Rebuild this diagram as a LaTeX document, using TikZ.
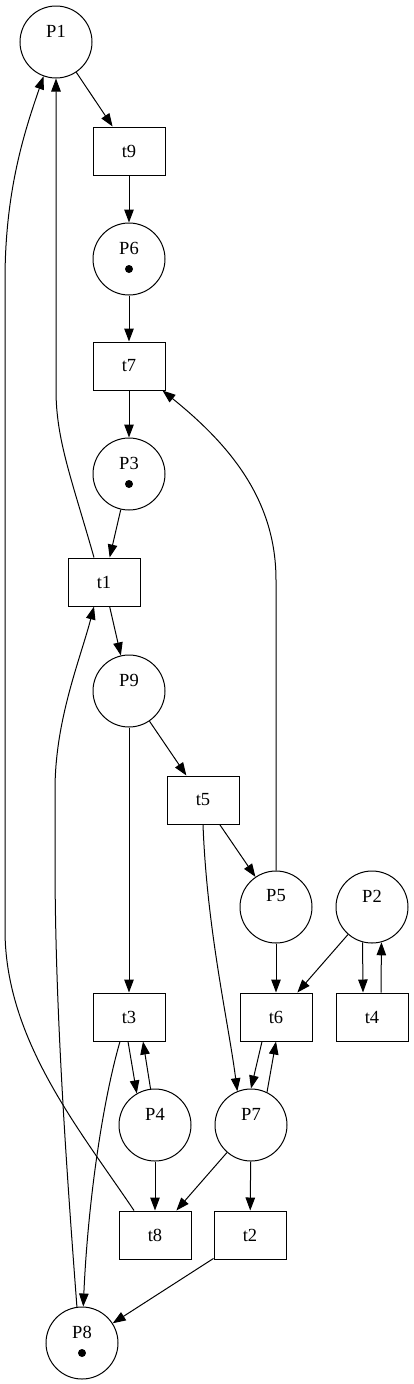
\documentclass[tikz,border=0pt]{standalone}
\usepackage{fontspec}
\setmainfont{Liberation Serif}
\usetikzlibrary{arrows.meta}
\begin{document}
\begin{tikzpicture}[x=1pt,y=-1pt,
 place/.style={circle,draw,line width=1pt,minimum size=72pt,inner sep=0pt},
 trans/.style={rectangle,draw,line width=1pt,minimum width=72pt,minimum height=48pt,inner sep=0pt,font=\fontsize{18.5}{20}\selectfont},
 lbl/.style={inner sep=0pt,font=\fontsize{18.5}{20}\selectfont},
 arc/.style={draw,line width=1pt,-{Triangle[length=13pt,width=9.5pt]}},
 token/.style={fill=black}]
\useasboundingbox (0,0) rectangle (413,1384);
% places
\node[place] (P1) at (56,42) {};
\node[place] (P6) at (129,259) {};
\node[place] (P3) at (129,474) {};
\node[place] (P9) at (129,691) {};
\node[place] (P5) at (276,907) {};
\node[place] (P2) at (372,907) {};
\node[place] (P4) at (155,1125) {};
\node[place] (P7) at (251,1125) {};
\node[place] (P8) at (82,1343) {};
% place labels
\node[lbl] (P1l) at (56,31) {P1};
\node[lbl] (P6l) at (129,248) {P6};
\node[lbl] (P3l) at (129,463) {P3};
\node[lbl] (P9l) at (129,680) {P9};
\node[lbl] (P5l) at (276,896) {P5};
\node[lbl] (P2l) at (372,896) {P2};
\node[lbl] (P4l) at (155,1114) {P4};
\node[lbl] (P7l) at (251,1114) {P7};
\node[lbl] (P8l) at (82,1332) {P8};
% tokens
\fill[token] (129,269) circle (4);
\fill[token] (129,484) circle (4);
\fill[token] (82,1353) circle (4);
% transitions
\node[trans] (t9) at (129,151) {t9};
\node[trans] (t7) at (129,366) {t7};
\node[trans] (t1) at (104,582) {t1};
\node[trans] (t5) at (203,800) {t5};
\node[trans] (t3) at (129,1017) {t3};
\node[trans] (t6) at (276,1017) {t6};
\node[trans] (t4) at (372,1017) {t4};
\node[trans] (t8) at (155,1235) {t8};
\node[trans] (t2) at (250,1235) {t2};
% arcs
\draw[arc] (P1) -- (t9);
\draw[arc] (t9) -- (P6);
\draw[arc] (P6) -- (t7);
\draw[arc] (t7) -- (P3);
\draw[arc] (P3) -- (t1);
\draw[arc] ([xshift=-10pt]t1.north) .. controls (72,480) and (56,440) .. (56,390) -- (P1.south);
\draw[arc] (t1) -- (P9);
\draw[arc] (P8.98) .. controls (65,1150) and (55,1000) .. (55,860) -- (55,790) .. controls (55,720) and (80,660) .. ([xshift=-10pt]t1.south);
\draw[arc] (P9) -- (t5);
\draw[arc] (P9) -- (t3);
\draw[arc] (t5) -- (P5);
\draw[arc] (t5.south) .. controls (207,930) and (228,1020) .. (P7.112);
\draw[arc] (P5.north) -- (276,580) .. controls (276,500) and (230,445) .. ([xshift=-3pt]t7.south east);
\draw[arc] (P5) -- (t6);
\draw[arc] (P2) -- (t6);
\draw[arc] (P2.-105) -- ([xshift=-9pt]t4.north);
\draw[arc] ([xshift=9pt]t4.north) -- (P2.-75);
\draw[arc] ([xshift=-1pt]t3.south) -- (P4.120);
\draw[arc] (P4.97) -- ([xshift=14pt]t3.south);
\draw[arc] ([xshift=-9pt]t3.south) .. controls (103,1100) and (88,1200) .. (P8.88);
\draw[arc] ([xshift=-14pt]t6.south) -- (P7.north);
\draw[arc] (P7.64) -- (t6.south);
\draw[arc] (P4) -- (t8);
\draw[arc] (P7) -- (t8);
\draw[arc] (P7) -- (t2);
\draw[arc] (t2) -- (P8);
\draw[arc] ([xshift=-21pt]t8.north) .. controls (80,1130) and (5,1040) .. (5,930) -- (5,280) .. controls (5,190) and (25,130) .. (P1.-110);
\end{tikzpicture}
\end{document}
